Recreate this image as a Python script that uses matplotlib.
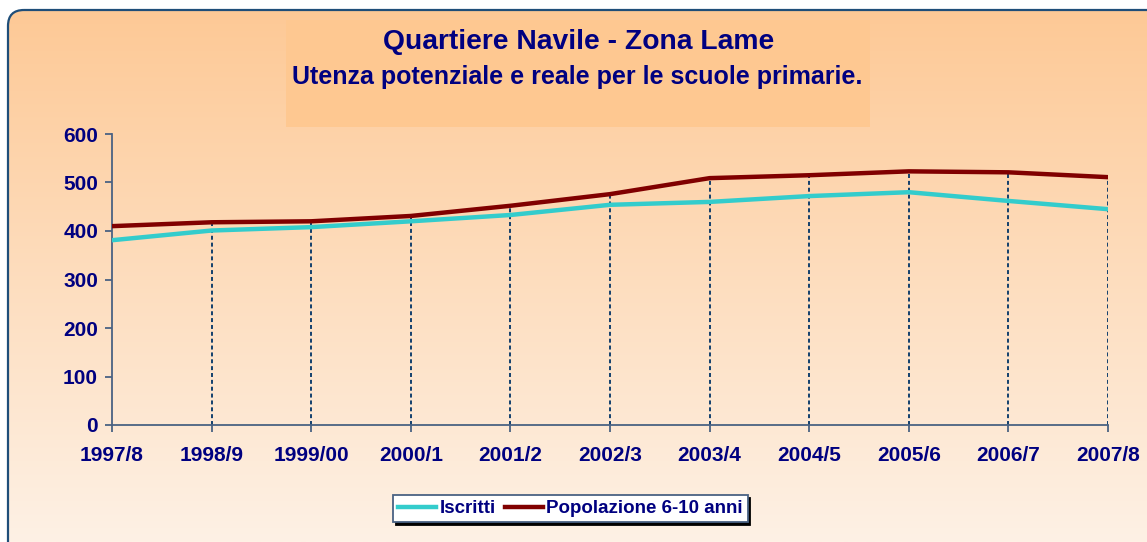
import numpy as np
import matplotlib
matplotlib.use("Agg")
import matplotlib.pyplot as plt
from matplotlib.patches import FancyBboxPatch, Rectangle

# data
anni = ["1997/8", "1998/9", "1999/00", "2000/1", "2001/2", "2002/3",
        "2003/4", "2004/5", "2005/6", "2006/7", "2007/8"]
iscritti = [381, 401, 408, 420, 433, 454, 460, 472, 480, 462, 445]
popolazione = [410, 418, 420, 431, 452, 476, 509, 515, 523, 521, 511]

W, H = 1147, 542
navy = "#000080"
axis_col = "#4A6283"

plt.rcParams['font.family'] = ['Liberation Sans', 'DejaVu Sans']
plt.rcParams['font.weight'] = 'bold'

fig = plt.figure(figsize=(W / 100, H / 100), dpi=100)

# background: rounded box with vertical gradient
bg = fig.add_axes([0, 0, 1, 1])
bg.set_xlim(0, W)
bg.set_ylim(H, 0)
bg.axis("off")
top = np.array([253, 201, 150]) / 255
bot = np.array([254, 241, 229]) / 255
t = np.linspace(0, 1, 256)[:, None]
grad = (top * (1 - t) + bot * t)[:, None, :]
box = FancyBboxPatch((8, 10), W + 40, H + 40,
                     boxstyle="round,pad=0,rounding_size=16",
                     facecolor="none", edgecolor="#1F4E79", lw=1.6, zorder=3)
bg.add_patch(box)
im = bg.imshow(grad, extent=[8, W, H, 10], aspect="auto", zorder=1)
im.set_clip_path(box)
bg.add_patch(Rectangle((286, 20), 584, 107, facecolor="#FEC891",
                       edgecolor="none", zorder=2))
bg.text(579, 42, "Quartiere Navile - Zona Lame", ha="center", va="center",
        fontsize=20.3, color=navy, fontweight="bold", zorder=4)
bg.text(577, 77, "Utenza potenziale e reale per le scuole primarie.",
        ha="center", va="center", fontsize=18, color=navy,
        fontweight="bold", zorder=4)

# main plot
x0, x1, y0, y1 = 112, 1108, 134, 425
ax = fig.add_axes([x0 / W, 1 - y1 / H, (x1 - x0) / W, (y1 - y0) / H])
ax.patch.set_alpha(0)
x = np.arange(len(anni))

for xi, v in zip(x[1:], popolazione[1:]):
    ax.plot([xi, xi], [0, v], color="#003366", lw=1.3,
            dashes=(2.2, 1.6), zorder=1)

ax.plot(x, iscritti, color="#33CCCC", lw=3.2, label="Iscritti", zorder=3)
ax.plot(x, popolazione, color="#800000", lw=3.2,
        label="Popolazione 6-10 anni", zorder=3)

ax.set_xlim(0, len(anni) - 1)
ax.set_ylim(0, 600)
ax.set_yticks(range(0, 601, 100))
ax.set_xticks(x)
ax.set_xticklabels(anni)
for s in ["top", "right"]:
    ax.spines[s].set_visible(False)
for s in ["left", "bottom"]:
    ax.spines[s].set_color(axis_col)
    ax.spines[s].set_linewidth(1.3)
ax.tick_params(axis="both", colors=axis_col, labelcolor=navy,
               labelsize=15, length=5, width=1.3)
ax.tick_params(axis="x", pad=10)
ax.tick_params(axis="y", pad=5)
for lab in ax.get_xticklabels() + ax.get_yticklabels():
    lab.set_fontweight("bold")

leg = fig.legend(loc="center", bbox_to_anchor=(570.5 / W, 1 - 508.5 / H),
                 ncol=2, fontsize=13.5, frameon=True, fancybox=False,
                 shadow={"color": "black", "alpha": 1}, framealpha=1,
                 edgecolor=axis_col, facecolor="white", labelcolor=navy,
                 handlelength=2.0, handletextpad=0.2, columnspacing=0.5,
                 borderpad=0.25, borderaxespad=0)
leg.get_frame().set_linewidth(1.3)
for txt in leg.get_texts():
    txt.set_fontweight("bold")

fig.savefig("out.png", dpi=100)
